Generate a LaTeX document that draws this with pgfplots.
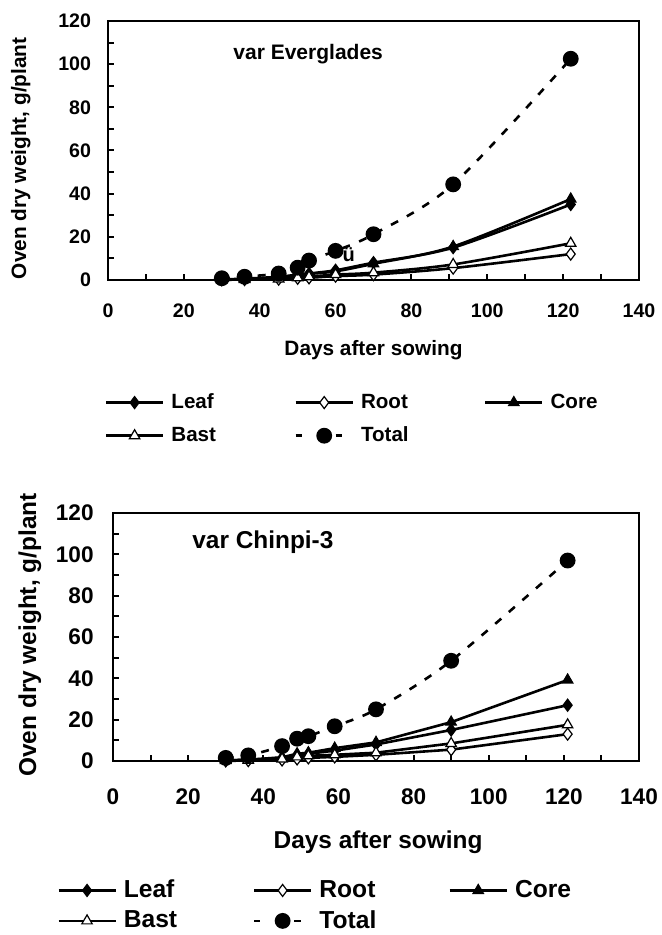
\documentclass[border=0pt]{standalone}
\usepackage{fontspec}
\setmainfont{Liberation Sans}
\usepackage{pgfplots}
\pgfplotsset{compat=1.18}

\pgfplotsset{
  hemp/.style={
    scale only axis, clip=false,
    xmin=0, xmax=140, ymin=0, ymax=120,
    xtick={0,20,...,140}, ytick={0,20,...,120},
    minor tick num=1,
    tick align=inside,
    xtick pos=bottom, ytick pos=left,
    major tick length=3pt, minor tick length=3pt,
    tick style={black, line width=1pt},
    minor tick style={black, line width=1pt},
    axis line style={line width=1.4pt},
    /pgf/number format/assume math mode=true,
    xticklabel style={anchor=base, inner sep=0pt},
    yticklabel style={anchor=east, inner sep=0pt},
    xlabel={Days after sowing},
    ylabel={Oven dry weight, g/plant},
    xlabel style={anchor=center},
    ylabel style={anchor=center},
    legend columns=3,
    legend cell align=left,
    legend style={draw=none, fill=none, anchor=north west, inner sep=0pt, outer sep=0pt,
      nodes={inner sep=1pt},
      /tikz/every odd column/.append style={column sep=2.5pt}},
    legend image code/.code={\draw[mark repeat=2,mark phase=2,#1]
      plot coordinates {(0pt,0pt) (14.25pt,0pt) (28.5pt,0pt)};},
  },
  leafp/.style={black, line width=1.3pt, mark=diamond*, mark size=3pt,
    mark options={solid, fill=black, line width=0.6pt}},
  rootp/.style={black, line width=1.3pt, mark=diamond*, mark size=3pt,
    mark options={solid, fill=white, line width=0.6pt}},
  corep/.style={black, line width=1.3pt, mark=triangle*, mark size=3pt,
    mark options={solid, fill=black, line width=0.6pt}},
  bastp/.style={black, line width=1.3pt, mark=triangle*, mark size=3pt,
    mark options={solid, fill=white, line width=0.6pt}},
  totalp/.style={black, line width=1.3pt, dash pattern=on 4pt off 5pt,
    mark=*, mark size=3.3pt, mark options={solid, fill=black},
    legend image post style={dash pattern=on 3pt off 17pt}},
}

\begin{document}
\begin{tikzpicture}
\useasboundingbox (0,0) rectangle (330.5pt,467.5pt);

% var Everglades
\begin{axis}[hemp,
  at={(54pt,327.5pt)}, anchor=south west,
  width=265.5pt, height=129.5pt,
  tick label style={font=\fontsize{9.8}{11}\selectfont\bfseries},
  xticklabel style={yshift=-19pt},
  yticklabel style={xshift=-8.3pt},
  label style={font=\fontsize{10.4}{12}\selectfont\bfseries},
  xlabel style={at={(axis description cs:0.5,-0.27)}},
  ylabel style={at={(axis description cs:-0.164,0.47)}},
  legend style={at={(axis description cs:-0.006,-0.431)},
    font=\fontsize{10.3}{12}\selectfont\bfseries, row sep=5.6pt,
    /tikz/every even column/.append style={column sep=10.5pt}},
]
\addplot[leafp, smooth] coordinates {(30,0.3) (36,0.6) (45,1.5) (50,2.5) (53,3) (60,4.5) (70,8) (91,15) (122,35)};
\addlegendentry{\makebox[50pt][l]{Leaf}}
\addplot[rootp, smooth] coordinates {(30,0.1) (36,0.2) (45,0.4) (50,0.8) (53,1) (60,1.8) (70,2.5) (91,5.5) (122,12)};
\addlegendentry{\makebox[50pt][l]{Root}}
\addplot[corep, smooth] coordinates {(30,0.2) (36,0.4) (45,1.2) (50,2.2) (53,2.8) (60,4) (70,7.5) (91,15.5) (122,37.5)};
\addlegendentry{\makebox[50pt][l]{Core}}
\addplot[bastp, smooth] coordinates {(30,0.1) (36,0.2) (45,0.5) (50,1) (53,1.5) (60,2.5) (70,3.4) (91,7.2) (122,17)};
\addlegendentry{\makebox[50pt][l]{Bast}}
\addplot[totalp, smooth] coordinates {(30,0.8) (36,1.5) (45,3) (50,5.7) (53,9) (60,13.5) (70,21.2) (91,44.3) (122,102.5)};
\addlegendentry{\makebox[50pt][l]{Total}}
\node[font=\fontsize{10.5}{12}\selectfont\bfseries] at (axis description cs:0.377,0.873) {var Everglades};
\node[font=\fontsize{10}{12}\selectfont\bfseries] at (axis cs:63.5,11.5) {ü};
\end{axis}

% var Chinpi-3
\begin{axis}[hemp,
  at={(56.5pt,87pt)}, anchor=south west,
  width=263pt, height=124pt,
  tick label style={font=\fontsize{11.3}{13}\selectfont\bfseries},
  xticklabel style={yshift=-21.5pt},
  yticklabel style={xshift=-9.5pt},
  label style={font=\fontsize{12.2}{14}\selectfont\bfseries},
  xlabel style={at={(axis description cs:0.504,-0.327)}},
  ylabel style={at={(axis description cs:-0.158,0.508)}},
  legend style={at={(axis description cs:-0.106,-0.472)},
    font=\fontsize{12.3}{14}\selectfont\bfseries, row sep=2.8pt,
    /tikz/every even column/.append style={column sep=8.5pt}},
]
\addplot[leafp] coordinates {(30,0.3) (36,0.6) (45,1.5) (49,3) (52,3.5) (59,5) (70,8) (90,15) (121,27)};
\addlegendentry{\makebox[55pt][l]{Leaf}}
\addplot[rootp] coordinates {(30,0.1) (36,0.2) (45,0.5) (49,1) (52,1.5) (59,2) (70,3) (90,5.5) (121,13)};
\addlegendentry{\makebox[55pt][l]{Root}}
\addplot[corep] coordinates {(30,0.3) (36,0.6) (45,1.8) (49,3.5) (52,4) (59,6.2) (70,9) (90,18.8) (121,39.2)};
\addlegendentry{\makebox[55pt][l]{Core}}
\addplot[bastp] coordinates {(30,0.2) (36,0.3) (45,1) (49,2) (52,2.5) (59,3) (70,4) (90,8.5) (121,17.5)};
\addlegendentry{\makebox[55pt][l]{Bast}}
\addplot[totalp, smooth] coordinates {(30,1.5) (36,2.7) (45,7.2) (49,10.8) (52,12) (59,16.8) (70,25) (90,48.5) (121,97)};
\addlegendentry{\makebox[55pt][l]{Total}}
\node[font=\fontsize{12.2}{14}\selectfont\bfseries] at (axis description cs:0.285,0.883) {var Chinpi-3};
\end{axis}
\end{tikzpicture}
\end{document}
